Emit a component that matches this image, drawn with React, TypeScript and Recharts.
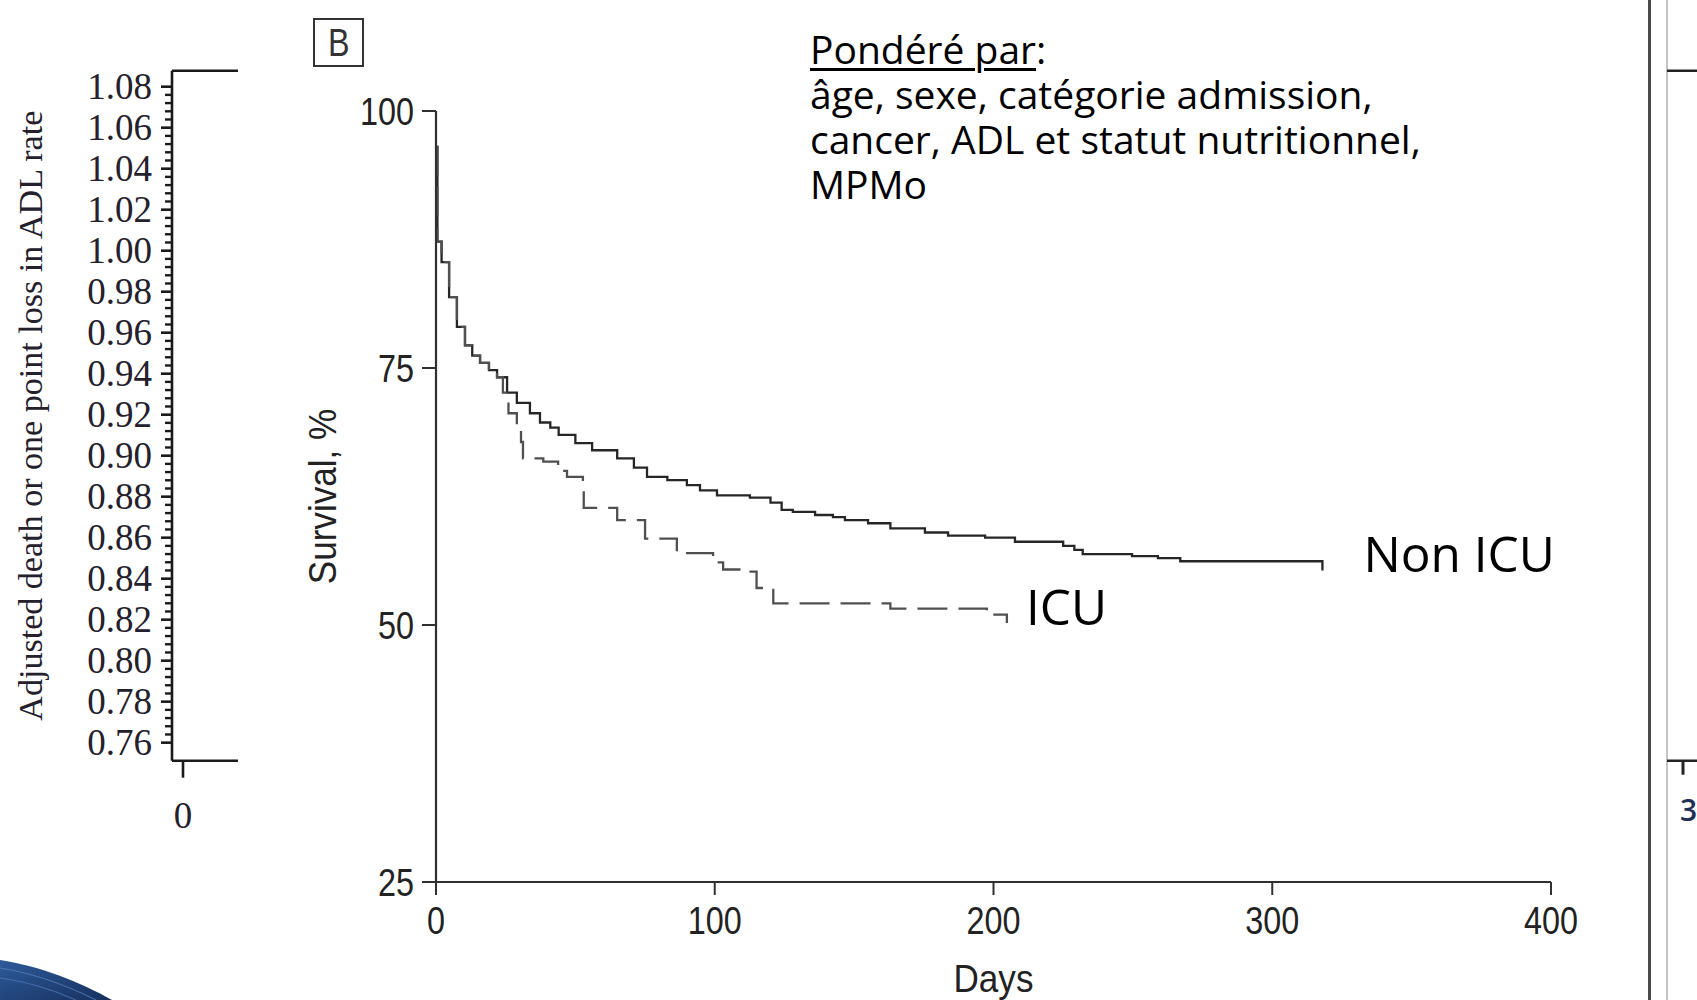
import React from 'react';
import { LineChart, Line, XAxis, YAxis, ReferenceLine } from 'recharts';

// ---------------- data ----------------
const nonIcuCurve: [number, number][] = [
  [0, 96.5], [0.5, 87.3], [2, 85.3], [4.7, 81.9], [7.5, 79.0], [10.4, 77.2], [13, 76.2],
  [15.8, 75.5], [19, 74.8], [21.9, 74.1], [25.5, 72.6], [29, 71.6], [33.7, 70.6], [37.3, 69.7],
  [41, 69.2], [44, 68.5], [50, 67.7], [56, 67.0], [65, 66.2], [71, 65.3], [75.7, 64.4],
  [83, 64.1], [90, 63.6], [94.7, 63.1], [100.8, 62.6], [112.6, 62.4], [120, 61.9], [124, 61.2],
  [128, 61.0], [136, 60.7], [142.4, 60.5], [146.7, 60.2], [155, 59.9], [163, 59.4], [175.4, 59.0],
  [183.7, 58.7], [197, 58.5], [207.7, 58.1], [225, 57.7], [229, 57.3], [232, 56.9], [249.7, 56.7],
  [259, 56.5], [267, 56.2], [318, 55.3],
];
const icuCurve: [number, number][] = [
  [0, 96.5], [0.5, 87.3], [2, 85.3], [4.7, 81.9], [7.5, 79.0], [10.4, 77.2], [13, 76.2],
  [15.8, 75.5], [19, 74.8], [21.9, 74.1], [24, 72.6], [26, 70.6], [29, 68.9], [30.5, 67.8],
  [31.2, 66.2], [38.5, 65.9], [43.8, 65.0], [47, 64.4], [52.7, 63.3], [53, 61.4], [65, 60.2],
  [75, 58.4], [86.4, 57.0], [99.4, 56.1], [103, 55.4], [111.5, 55.2], [115, 53.6], [121, 52.1],
  [163, 51.6], [197.6, 51.0], [204.8, 50.2],
];
const survivalTicks = [25, 50, 75, 100];
const dayTicks = [0, 100, 200, 300, 400];
const leftMajorTicks = [0.76, 0.78, 0.8, 0.82, 0.84, 0.86, 0.88, 0.9, 0.92, 0.94, 0.96, 0.98, 1.0, 1.02, 1.04, 1.06, 1.08];
const leftXTicks = [0];
const rightXTicks = [3];
const seriesNames = ['Non ICU', 'ICU'];
const annotationTitle = 'Pondéré par';
const annotationLines = ['âge, sexe, catégorie admission,', 'cancer, ADL et statut nutritionnel,', 'MPMo'];

const nonIcuData = nonIcuCurve.map(([day, survival]) => ({ day, survival }));
const icuData = icuCurve.map(([day, survival]) => ({ day, survival }));
// minor ticks every 0.004 between the labelled majors
const leftAllTicks: number[] = [];
for (let i = 0; i < leftMajorTicks.length - 1; i++) {
  for (let k = 0; k < 5; k++) leftAllTicks.push(+(leftMajorTicks[i] + k * 0.004).toFixed(3));
}
leftAllTicks.push(leftMajorTicks[leftMajorTicks.length - 1]);
const LEFT_DOMAIN: [number, number] = [0.7512, 1.0878];
const leftFrameData = leftXTicks.map((x) => ({ x }));
const rightFrameData = rightXTicks.map((x) => ({ x }));

// ---------------- styles ----------------
const FONT_SANS = "'Liberation Sans', Arial, Helvetica, sans-serif";
const FONT_SERIF = "'Liberation Serif', 'Times New Roman', serif";
const FONT_TEXT = "'Open Sans', 'Noto Sans', sans-serif";
const AXIS = '#303030';
const NARROW = 0.83;

const NarrowText = (p: any) => {
  const { x, y, dy, anchor, size, sx, rotate, children } = p;
  const tf = `translate(${x} ${y}) rotate(${rotate || 0}) scale(${sx} 1) translate(${-x} ${-y})`;
  return (
    <text x={x} y={y} dy={dy} textAnchor={anchor} fontFamily={FONT_SANS} fontSize={size} fill="#222" transform={tf}>
      {children}
    </text>
  );
};

const DayTick = (props: any) => (
  <NarrowText x={props.x} y={props.y} dy="0.72em" anchor="middle" size={39} sx={NARROW}>
    {String(props.payload.value)}
  </NarrowText>
);
const SurvivalTick = (props: any) => (
  <NarrowText x={props.x} y={props.y} dy="0.36em" anchor="end" size={39} sx={NARROW}>
    {String(props.payload.value)}
  </NarrowText>
);

const endLabel = (name: string, count: number, dx: number, dy: number) => (props: any) => {
  if (props.index !== count - 1) return null;
  return (
    <text x={props.x + dx} y={props.y + dy} fontFamily={FONT_TEXT} fontSize={49.5} fill="#000">
      {name}
    </text>
  );
};

const LeftTick = (props: any) => {
  const { x, y, payload } = props;
  const v = payload.value as number;
  const major = leftMajorTicks.some((m) => Math.abs(m - v) < 1e-6);
  return (
    <g>
      <line x1={major ? x : x + 4} x2={x + 11} y1={y} y2={y} stroke="#1a1a1a" strokeWidth={major ? 2.6 : 2.4} />
      {major && (
        <text x={x - 9} y={y} dy="0.34em" textAnchor="end" fontFamily={FONT_SERIF} fontSize={37} fill="#24202c">
          {v.toFixed(2)}
        </text>
      )}
    </g>
  );
};

const LeftXTick = (props: any) => (
  <text x={props.x} y={props.y} dy="0.7em" textAnchor="middle" fontFamily={FONT_SERIF} fontSize={37} fill="#24202c">
    {String(props.payload.value)}
  </text>
);

const RightTick = (props: any) => {
  const { x, y, payload } = props;
  return (
    <text x={x - 3} y={y + 42} textAnchor="start" fontFamily={FONT_TEXT} fontWeight={600} fontSize={30} fill="#1f2f55">
      {String(payload.value)}
    </text>
  );
};

export default function App() {
  return (
    <div style={{ position: 'absolute', left: 0, top: 0, width: 1697, height: 1000, background: '#fff', overflow: 'hidden' }}>
      {/* left partial panel */}
      <div style={{ position: 'absolute', left: 0, top: 0, width: 238, height: 1000, overflow: 'hidden' }}>
        <LineChart width={420} height={1000} data={leftFrameData} margin={{ top: 70.7, right: 17, bottom: 0, left: 0 }}>
          <XAxis
            type="number"
            dataKey="x"
            domain={[-0.5, 10]}
            allowDataOverflow
            ticks={leftXTicks}
            height={239.3}
            tickSize={17}
            tickMargin={24}
            axisLine={{ stroke: '#1a1a1a', strokeWidth: 2.6 }}
            tickLine={{ stroke: '#1a1a1a', strokeWidth: 2.6 }}
            tick={<LeftXTick />}
          />
          <YAxis
            type="number"
            domain={LEFT_DOMAIN}
            allowDataOverflow
            ticks={leftAllTicks}
            interval={0}
            width={172}
            tickSize={11}
            tickMargin={0}
            tickLine={false}
            tick={<LeftTick />}
            axisLine={{ stroke: '#1a1a1a', strokeWidth: 2.6 }}
            label={{
              content: (p: any) => {
                const vb = p.viewBox || {};
                const cx = 31;
                const cy = (vb.y ?? 70.7) + (vb.height ?? 690) / 2;
                return (
                  <text
                    x={cx}
                    y={cy}
                    transform={`rotate(-90 ${cx} ${cy})`}
                    textAnchor="middle"
                    dominantBaseline="central"
                    fontFamily={FONT_SERIF}
                    fontSize={33}
                    fill="#24202c"
                    textLength={610}
                    lengthAdjust="spacingAndGlyphs"
                  >
                    Adjusted death or one point loss in ADL rate
                  </text>
                );
              },
            }}
          />
          <ReferenceLine y={LEFT_DOMAIN[1]} stroke="#1a1a1a" strokeWidth={2.6} ifOverflow="visible" />
        </LineChart>
      </div>

      {/* main panel B */}
      <div style={{ position: 'absolute', left: 0, top: 0 }}>
        <LineChart width={1697} height={1000} margin={{ top: 111, right: 146, bottom: 0, left: 0 }}>
          <XAxis
            type="number"
            dataKey="day"
            domain={[0, 400]}
            ticks={dayTicks}
            allowDataOverflow
            height={118}
            tickSize={13}
            tickMargin={11}
            axisLine={{ stroke: AXIS, strokeWidth: 2.2 }}
            tickLine={{ stroke: AXIS, strokeWidth: 2 }}
            tick={<DayTick />}
            label={{
              content: (p: any) => {
                const vb = p.viewBox || {};
                const cx = (vb.x ?? 436) + (vb.width ?? 1115) / 2;
                const cy = (vb.y ?? 882) + (vb.height ?? 118) - 8;
                return (
                  <NarrowText x={cx} y={cy} anchor="middle" size={39} sx={0.9}>
                    Days
                  </NarrowText>
                );
              },
            }}
          />
          <YAxis
            type="number"
            domain={[25, 100]}
            ticks={survivalTicks}
            width={436}
            tickSize={14}
            tickMargin={8}
            axisLine={{ stroke: AXIS, strokeWidth: 2.2 }}
            tickLine={{ stroke: AXIS, strokeWidth: 2 }}
            tick={<SurvivalTick />}
            label={{
              content: (p: any) => {
                const vb = p.viewBox || {};
                const cx = (vb.x ?? 0) + (vb.width ?? 436) - 114;
                const cy = (vb.y ?? 111) + (vb.height ?? 771) / 2;
                return (
                  <NarrowText x={cx} y={cy} dy="0.36em" anchor="middle" size={39} sx={0.9} rotate={-90}>
                    Survival, %
                  </NarrowText>
                );
              },
            }}
          />
          <Line
            data={nonIcuData}
            dataKey="survival"
            name={seriesNames[0]}
            type="stepAfter"
            stroke="#262626"
            strokeWidth={2.3}
            dot={false}
            isAnimationActive={false}
            label={endLabel(seriesNames[0], nonIcuData.length, 41, 1.5)}
          />
          <Line
            data={icuData}
            dataKey="survival"
            name={seriesNames[1]}
            type="stepAfter"
            stroke="#505050"
            strokeWidth={2.3}
            strokeDasharray="30 11"
            dot={false}
            isAnimationActive={false}
            label={endLabel(seriesNames[1], icuData.length, 19, 2)}
          />
        </LineChart>
      </div>

      {/* right partial panel */}
      <div style={{ position: 'absolute', left: 1648, top: 0, width: 3, height: 1000, background: '#4a4a4a' }} />
      <div style={{ position: 'absolute', left: 1666, top: 0, width: 1.5, height: 1000, background: '#c4c4c4' }} />
      <div style={{ position: 'absolute', left: 1667, top: 0, width: 30, height: 1000, overflow: 'hidden' }}>
        <LineChart width={300} height={1000} data={rightFrameData} margin={{ top: 70.7, right: 0, bottom: 0, left: 0 }}>
          <XAxis
            type="number"
            dataKey="x"
            domain={[2.36, 14.36]}
            allowDataOverflow
            ticks={rightXTicks}
            height={239.3}
            tickSize={14}
            tickMargin={4}
            axisLine={{ stroke: '#222', strokeWidth: 2.5 }}
            tickLine={{ stroke: '#222', strokeWidth: 3 }}
            tick={<RightTick />}
          />
          <YAxis type="number" domain={LEFT_DOMAIN} allowDataOverflow hide />
          <ReferenceLine y={LEFT_DOMAIN[1]} stroke="#222" strokeWidth={2.5} ifOverflow="visible" />
        </LineChart>
      </div>

      {/* panel letter */}
      <div
        style={{
          position: 'absolute', left: 313, top: 18, width: 47, height: 45, border: '2px solid #333',
          display: 'flex', alignItems: 'center', justifyContent: 'center',
          fontFamily: FONT_SANS, fontSize: 38, color: '#333', lineHeight: 1,
        }}
      >
        <span style={{ display: 'inline-block', transform: 'scaleX(0.85)' }}>B</span>
      </div>

      {/* annotation */}
      <div
        style={{
          position: 'absolute', left: 810, top: 26.4, whiteSpace: 'pre',
          fontFamily: FONT_TEXT, fontSize: 39, lineHeight: '45px', color: '#000',
        }}
      >
        <span style={{ textDecoration: 'underline', textDecorationThickness: '2.5px', textUnderlineOffset: '4px' }}>
          {annotationTitle}
        </span>
        {':'}
        {annotationLines.map((l, i) => (
          <div key={i}>{l}</div>
        ))}
      </div>

      <svg width={120} height={60} style={{ position: 'absolute', left: 0, top: 940, pointerEvents: 'none' }}>
        <defs>
          <linearGradient id="sw" x1="0" y1="0" x2="1" y2="1">
            <stop offset="0" stopColor="#2d5b9a" />
            <stop offset="1" stopColor="#16305e" />
          </linearGradient>
        </defs>
        <path d="M0,20 C40,26 80,42 112,60 L0,60 Z" fill="url(#sw)" />
        <path d="M0,28 C38,34 72,48 96,60" fill="none" stroke="#5d86c2" strokeWidth={1.2} opacity={0.7} />
        <path d="M0,38 C30,42 58,52 76,60" fill="none" stroke="#5d86c2" strokeWidth={1.2} opacity={0.6} />
      </svg>
    </div>
  );
}
